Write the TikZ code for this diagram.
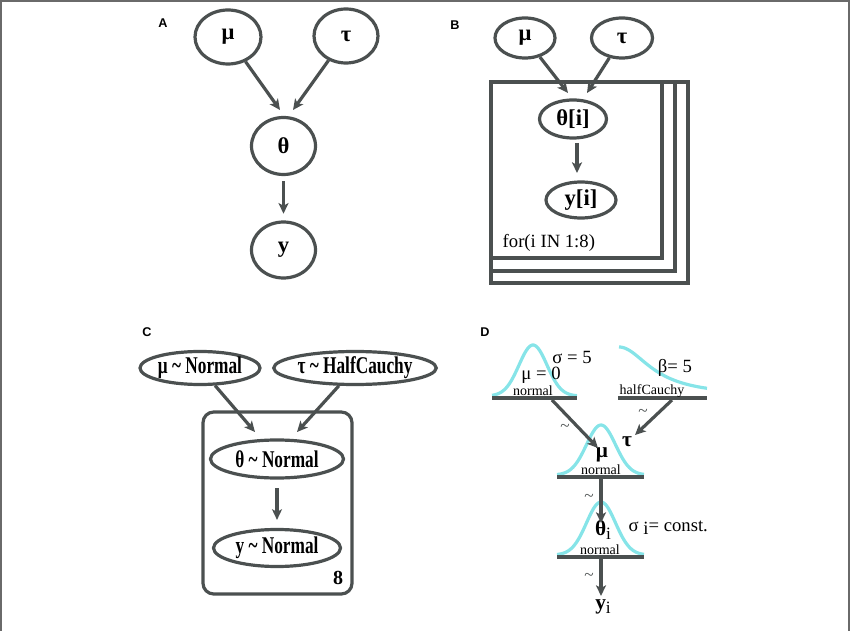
\documentclass[tikz,border=0pt]{standalone}
\usepackage{fontspec}
\setmainfont{Liberation Serif}
\newfontfamily\labfont{Liberation Sans}
\usetikzlibrary{shapes.geometric,arrows.meta}
\definecolor{lc}{HTML}{4B5050}
\definecolor{cy}{HTML}{86E4E8}
\definecolor{fr}{HTML}{6A6A6A}
\newcommand\cond[1]{\scalebox{0.72}[1]{#1}}
\begin{document}
\begin{tikzpicture}[x=0.75pt,y=-0.75pt,
  ell/.style 2 args={ellipse, draw=lc, line width=2.4pt, inner sep=0pt,
     minimum width=#1*0.75pt, minimum height=#2*0.75pt,
     font=\bfseries\fontsize{17}{17}\selectfont},
  arr/.style={draw=lc, line width=2.4pt, -{Stealth[length=8pt,width=7.5pt,inset=2pt]}},
  lab/.style={font=\labfont\bfseries\fontsize{9.5}{9.5}\selectfont},
  base/.style={draw=lc, line width=2.4pt},
  bell/.style={draw=cy, line width=2.4pt},
  tl/.style={text=lc, font=\fontsize{13}{13}\selectfont},
  small/.style={font=\fontsize{10.5}{10.5}\selectfont},
  reg/.style={font=\fontsize{14}{14}\selectfont}]
\useasboundingbox (0,0) rectangle (850,631);
\draw[fr, line width=1.2pt] (1,631) -- (1,0.8) -- (849,0.8) -- (849,631);

% ---------------- Panel A
\node[lab] (LA) at (163,23) {A};
\node[ell={66}{54}] (muA) at (228,37) {μ};
\node[ell={64}{54}] (tauA) at (346,36) {τ};
\node[ell={64}{57}] (thA) at (283.5,146) {θ};
\node[ell={64}{56}] (yA) at (283.5,250) {y};
\coordinate (eA1) at (280,110);
\coordinate (eA2) at (293,110);
\draw[arr] (muA) -- (eA1);
\draw[arr] (tauA) -- (eA2);
\draw[arr, shorten <=4pt, shorten >=5pt] (thA) -- (yA);

% ---------------- Panel B
\node[lab] (LB) at (455,25) {B};
\draw[lc, line width=2.4pt] (491,82) rectangle (688,283);
\draw[lc, line width=2.4pt] (491,82) rectangle (675,271);
\draw[lc, line width=2.4pt] (491,82) rectangle (662,258);
\node[ell={60}{40}] (muB) at (525,38) {μ};
\node[ell={61}{40}] (tauB) at (622,38) {τ};
\node[ell={67}{38}] (thB) at (573,119) {θ[i]};
\node[ell={70}{36}] (yB) at (581,200) {y[i]};
\coordinate (eB1) at (568,93);
\coordinate (eB2) at (587,93);
\draw[arr] (muB) -- (eB1);
\draw[arr] (tauB) -- (eB2);
\draw[arr] (thB) ++(4,24) -- ++(0,30);
\node[reg, anchor=west] (forB) at (498,243) {for(i IN 1:8)};

% ---------------- Panel C
\node[lab] (LC) at (147,332) {C};
\draw[lc, line width=2.4pt, rounded corners=8pt] (203,412) rectangle (352,594);
\node[ell={120}{33}, font=\bfseries\fontsize{18}{18}\selectfont] (muC) at (200,368) {\cond{μ \char`\~{} Normal}};
\node[ell={154}{33}, font=\bfseries\fontsize{18}{18}\selectfont] (tauC) at (355,368) {\cond{τ \char`\~{} HalfCauchy}};
\node[ell={133}{38}, font=\bfseries\fontsize{18}{18}\selectfont] (thC) at (277,459) {\cond{θ \char`\~{} Normal}};
\node[ell={127}{37}, font=\bfseries\fontsize{18}{18}\selectfont] (yC) at (277,548) {\cond{y \char`\~{} Normal}};
\node[font=\bfseries\fontsize{15}{15}\selectfont] (nC) at (338,578) {8};
\coordinate (eC1) at (255,432);
\coordinate (eC2) at (297,432);
\draw[arr] (muC) -- (eC1);
\draw[arr] (tauC) -- (eC2);
\draw[arr, shorten <=6.5pt, shorten >=6pt] (thC) -- (yC);

% ---------------- Panel D
\node[lab] (LD) at (485,332) {D};
% prior normal
\draw[bell] plot[domain=492:577, samples=60, smooth] (\x,{396-51*exp(-((\x-533)/14)^2/2)});
\draw[base] (492,398) -- (577,398);
\node[reg] (sigD) at (572,357) {σ = 5};
\node[reg] (mu0D) at (541,375) {μ = 0};
\node[small] (nrm1) at (533,391) {normal};
% half cauchy
\draw[bell] plot[domain=619:707, samples=60, smooth] (\x,{396-49/(1+((\x-619)/38)^2)});
\draw[base] (618,398) -- (707,398);
\node[reg] (betD) at (675,368) {β= 5};
\node[small] (hcD) at (652,391) {halfCauchy};
% mu node
\draw[bell] plot[domain=557:644, samples=60, smooth] (\x,{475-50*exp(-((\x-601)/14.5)^2/2)});
\draw[base] (557,477) -- (644,477);
\node[font=\bfseries\fontsize{16}{16}\selectfont] (muD) at (602,455) {μ};
\node[small] (nrm2) at (601,470) {normal};
\node[font=\bfseries\fontsize{16}{16}\selectfont] (tauD) at (627,442) {τ};
% theta node
\draw[bell] plot[domain=557:644, samples=60, smooth] (\x,{555-53*exp(-((\x-601)/14.5)^2/2)});
\draw[base] (557,557) -- (644,557);
\node (thD) at (603,530) {{\bfseries\fontsize{16}{16}\selectfont θ}\raisebox{-3pt}{\fontsize{13}{13}\selectfont i}};
\node[small] (nrm3) at (600,550) {normal};
\node[reg, anchor=west] (constD) at (624,528) {σ \raisebox{-2pt}{i}= const.};
% y node
\node (yD) at (603,607) {{\bfseries\fontsize{16}{16}\selectfont y}\raisebox{-3pt}{\fontsize{13}{13}\selectfont i}};
% arrows
\coordinate (s1) at (552,400);
\coordinate (t1) at (598,448);
\coordinate (s2) at (672,400);
\coordinate (t2) at (635,435);
\coordinate (s3) at (601,479);
\coordinate (t3) at (601,523);
\coordinate (s4) at (601,559);
\coordinate (t4) at (601,596);
\draw[arr] (s1) -- (t1);
\draw[arr] (s2) -- (t2);
\draw[arr] (s3) -- (t3);
\draw[arr] (s4) -- (t4);
\node[tl] (w1) at (565,428) {\char`\~};
\node[tl] (w2) at (643,413) {\char`\~};
\node[tl] (w3) at (589,498) {\char`\~};
\node[tl] (w4) at (589,577) {\char`\~};
\end{tikzpicture}
\end{document}
